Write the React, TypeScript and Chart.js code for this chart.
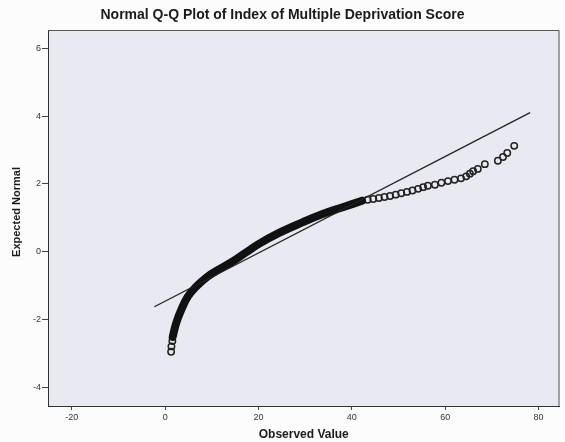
import { useEffect, useRef } from "react";
import { Chart, registerables } from "chart.js";

Chart.register(...registerables);

const chartTitle = "Normal Q-Q Plot of Index of Multiple Deprivation Score";
const xAxisTitle = "Observed Value";
const yAxisTitle = "Expected Normal";

const xTicks = [-20, 0, 20, 40, 60, 80];
const yTicks = [-4, -2, 0, 2, 4, 6];

// Bulk of the sample, where the markers overlap into a solid band
const denseObserved = [1.62, 2.35, 3.42, 4.82, 6.62, 9.09, 11.6, 14.4, 17.3, 20.0, 24.4, 29.4, 33.6, 37.9, 42.2];
const denseExpected = [-2.52, -2.12, -1.73, -1.34, -1.04, -0.74, -0.52, -0.3, -0.03, 0.22, 0.55, 0.86, 1.1, 1.3, 1.5];

// Lowest scores, drawn as separate markers
const lowObserved = [1.28, 1.35, 1.55];
const lowExpected = [-2.96, -2.8, -2.64];

// Upper tail
const highObserved = [43.4, 44.6, 45.8, 47.0, 48.2, 49.4, 50.6, 51.8, 53.0, 54.2, 55.3, 56.3, 57.8, 59.2, 60.6, 62.0, 63.4, 64.5, 65.3, 66.0, 67.0, 68.5, 71.3, 72.4, 73.3, 74.8];
const highExpected = [1.53, 1.55, 1.58, 1.61, 1.64, 1.68, 1.72, 1.76, 1.8, 1.85, 1.9, 1.94, 1.97, 2.03, 2.08, 2.12, 2.16, 2.22, 2.3, 2.37, 2.44, 2.58, 2.68, 2.79, 2.91, 3.12];

// Reference line of the fitted normal distribution
const lineObserved = [-2.3, 78.2];
const lineExpected = [-1.63, 4.1];

const toPoints = (xs: number[], ys: number[]) => xs.map((x, i) => ({ x, y: ys[i] }));

const FONT = "'Liberation Sans', Arial, sans-serif";

const framePlugin = {
  id: "frame",
  beforeDraw(chart: any) {
    const { ctx, chartArea: a, width, height } = chart;
    ctx.save();
    ctx.fillStyle = "#fcfcfc";
    ctx.fillRect(0, 0, width, height);
    ctx.fillStyle = "#e9e9f2";
    ctx.fillRect(a.left, a.top, a.right - a.left, a.bottom - a.top);
    ctx.restore();
  },
  afterDraw(chart: any) {
    const { ctx, chartArea: a, width } = chart;
    ctx.save();
    ctx.strokeStyle = "#555";
    ctx.lineWidth = 1;
    ctx.beginPath();
    ctx.moveTo(a.left, a.top + 0.5);
    ctx.lineTo(a.right - 0.5, a.top + 0.5);
    ctx.lineTo(a.right - 0.5, a.bottom);
    ctx.stroke();

    ctx.fillStyle = "#1a1a1a";
    ctx.textAlign = "center";
    ctx.textBaseline = "middle";
    ctx.font = `bold 14px ${FONT}`;
    ctx.fillText(chartTitle, width / 2, 15);

    ctx.font = `bold 12px ${FONT}`;
    ctx.fillText(xAxisTitle, (a.left + a.right) / 2, 435);

    ctx.font = `bold 11px ${FONT}`;
    ctx.translate(17, 212);
    ctx.rotate(-Math.PI / 2);
    ctx.fillText(yAxisTitle, 0, 0);
    ctx.restore();
  },
};

export default function App() {
  const canvasRef = useRef<HTMLCanvasElement | null>(null);

  useEffect(() => {
    if (!canvasRef.current) return;
    const marker = {
      pointStyle: "circle" as const,
      pointRadius: 3.2,
      pointBorderWidth: 1.5,
      pointBorderColor: "#222",
      pointBackgroundColor: "rgba(0,0,0,0)",
      showLine: false,
    };
    const chart = new Chart(canvasRef.current, {
      type: "scatter",
      data: {
        datasets: [
          {
            data: toPoints(lineObserved, lineExpected),
            showLine: true,
            borderColor: "#222",
            borderWidth: 1.3,
            pointRadius: 0,
          },
          {
            data: toPoints(denseObserved, denseExpected),
            showLine: true,
            borderColor: "#111",
            borderWidth: 8,
            borderCapStyle: "round",
            borderJoinStyle: "round",
            tension: 0.4,
            pointRadius: 0,
          },
          { data: toPoints(lowObserved, lowExpected), ...marker },
          { data: toPoints(highObserved, highExpected), ...marker },
        ],
      },
      options: {
        animation: false,
        responsive: false,
        layout: { padding: { top: 30, right: 3, left: 0, bottom: 0 } },
        plugins: { legend: { display: false }, tooltip: { enabled: false }, title: { display: false } },
        scales: {
          x: {
            type: "linear",
            min: -25.1,
            max: 84.5,
            afterBuildTicks: (s: any) => {
              s.ticks = xTicks.map((v) => ({ value: v }));
            },
            afterFit: (s: any) => {
              s.height = 36;
            },
            ticks: { font: { family: FONT, size: 9 }, color: "#333", padding: 2 },
            grid: { drawOnChartArea: false, drawTicks: true, tickLength: 4, color: "#444" },
            border: { display: true, color: "#333", width: 1 },
          },
          y: {
            type: "linear",
            min: -4.56,
            max: 6.54,
            afterBuildTicks: (s: any) => {
              s.ticks = yTicks.map((v) => ({ value: v }));
            },
            afterFit: (s: any) => {
              s.width = 48;
            },
            ticks: { font: { family: FONT, size: 9 }, color: "#333", padding: 1 },
            grid: { drawOnChartArea: false, drawTicks: true, tickLength: 6, color: "#444" },
            border: { display: true, color: "#333", width: 1 },
          },
        },
      },
      plugins: [framePlugin],
    });
    return () => chart.destroy();
  }, []);

  return (
    <div style={{ position: "absolute", left: 0, top: 0, width: 565, height: 442 }}>
      <canvas ref={canvasRef} width={565} height={442} style={{ width: 565, height: 442 }} />
    </div>
  );
}
